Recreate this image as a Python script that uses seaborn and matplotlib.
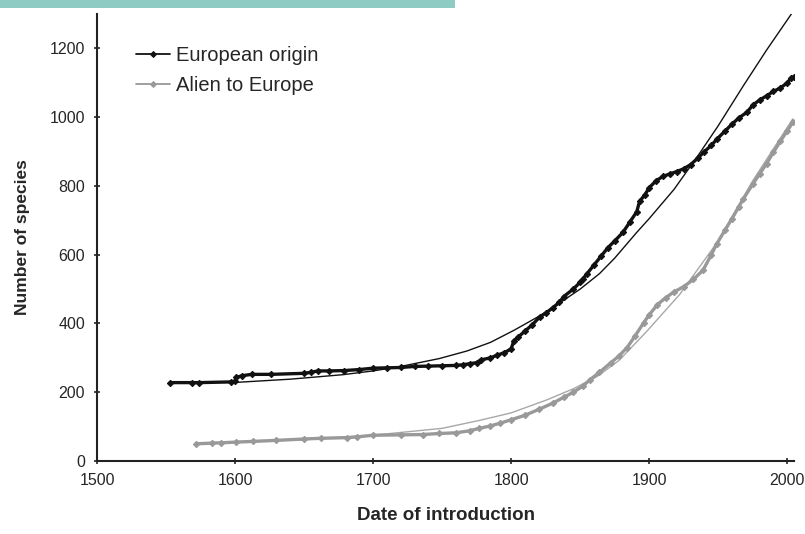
import numpy as np
import pandas as pd
import matplotlib
matplotlib.use("Agg")
import matplotlib.pyplot as plt
from matplotlib.patches import Rectangle
import seaborn as sns

eu_years = [1553, 1569, 1574, 1597, 1600, 1601, 1605, 1612, 1626, 1650, 1655, 1660, 1668,
            1679, 1690, 1700, 1710, 1720, 1730, 1740, 1750, 1760, 1765, 1770, 1775, 1778,
            1785, 1790, 1795, 1800, 1802, 1805, 1810, 1815, 1821, 1825, 1830, 1835, 1838,
            1845, 1850, 1852, 1855, 1860, 1865, 1870, 1875, 1881, 1886, 1891, 1893, 1897,
            1900, 1905, 1910, 1915, 1920, 1925, 1930, 1935, 1940, 1945, 1949, 1955, 1960,
            1965, 1971, 1975, 1980, 1985, 1990, 1995, 2000, 2003, 2005]
eu_counts = [228, 228, 228, 230, 232, 243, 248, 252, 252, 255, 258, 262, 262,
             263, 266, 270, 271, 272, 275, 276, 277, 278, 280, 283, 286, 294,
             300, 308, 315, 326, 350, 360, 378, 395, 420, 430, 445, 462, 478,
             500, 520, 530, 545, 570, 595, 620, 640, 665, 695, 725, 755, 775,
             795, 815, 828, 835, 842, 850, 862, 880, 900, 918, 936, 960, 980,
             998, 1015, 1035, 1050, 1062, 1075, 1085, 1100, 1115, 1118]

al_years = [1572, 1583, 1590, 1601, 1613, 1630, 1650, 1662, 1681, 1688, 1700, 1720, 1736,
            1748, 1760, 1770, 1777, 1785, 1792, 1800, 1810, 1820, 1830, 1838, 1845, 1852,
            1857, 1864, 1872, 1878, 1884, 1890, 1896, 1900, 1906, 1912, 1918, 1925, 1932,
            1939, 1945, 1949, 1955, 1960, 1965, 1968, 1975, 1980, 1985, 1990, 1995, 2000,
            2004]
al_counts = [50, 52, 53, 55, 57, 60, 64, 66, 68, 70, 75, 76, 77,
             80, 82, 88, 95, 102, 110, 120, 133, 150, 168, 185, 200, 218,
             236, 258, 285, 305, 330, 365, 402, 425, 455, 475, 492, 507, 528,
             555, 600, 632, 672, 705, 740, 761, 805, 835, 865, 898, 930, 960,
             985]

# fitted curves
eu_fit_years = [1598, 1640, 1678, 1700, 1720, 1748, 1768, 1785, 1802, 1825, 1850, 1864,
                1875, 1891, 1900, 1918, 1935, 1950, 1968, 1985, 2004]
eu_fit_counts = [228, 238, 251, 262, 275, 298, 320, 345, 380, 432, 500, 545,
                 590, 665, 705, 790, 886, 975, 1090, 1195, 1306]
al_fit_years = [1591, 1650, 1700, 1750, 1777, 1800, 1826, 1845, 1862, 1878, 1898, 1910,
                1922, 1950, 1975, 2004]
al_fit_counts = [55, 62, 75, 95, 118, 140, 178, 210, 245, 292, 376, 430,
                 484, 640, 815, 995]

labels = ["European origin", "Alien to Europe"]

sns.set_style("ticks")
plt.rcParams['font.family'] = ['Liberation Sans', 'DejaVu Sans']

fig = plt.figure(figsize=(8.05, 5.34), dpi=100)
ax = fig.add_axes([0.1205, 0.1367, 0.866, 0.837])

black = "#111111"
grey = "#999999"

eu = pd.DataFrame({"year": eu_years, "n": eu_counts})
al = pd.DataFrame({"year": al_years, "n": al_counts})
eu_fit = pd.DataFrame({"year": eu_fit_years, "n": eu_fit_counts})
al_fit = pd.DataFrame({"year": al_fit_years, "n": al_fit_counts})

sns.lineplot(data=eu_fit, x="year", y="n", ax=ax, color=black, lw=1.0, label="_nolegend_")
sns.lineplot(data=al_fit, x="year", y="n", ax=ax, color="#a8a8a8", lw=1.0, label="_nolegend_")
sns.lineplot(data=eu, x="year", y="n", ax=ax, color=black, lw=2.4, marker="D", ms=3.2,
             mec=black, label=labels[0])
sns.lineplot(data=al, x="year", y="n", ax=ax, color=grey, lw=2.4, marker="D", ms=3.2,
             mec=grey, label=labels[1])

ax.set_xlim(1500, 2005)
ax.set_ylim(0, 1300)
ax.set_xticks(range(1500, 2001, 100))
ax.set_yticks(range(0, 1201, 200))
ax.tick_params(labelsize=11.5, length=5, width=1.2, direction="inout", pad=6)
for s in ["top", "right"]:
    ax.spines[s].set_visible(False)
for s in ["left", "bottom"]:
    ax.spines[s].set_linewidth(1.5)
    ax.spines[s].set_color("#222222")

ax.set_xlabel("Date of introduction", fontsize=13.5, fontweight="bold", labelpad=14)
ax.set_ylabel("Number of species", fontsize=12.5, fontweight="bold", labelpad=14)

leg = ax.legend(loc="upper left", bbox_to_anchor=(0.03, 0.97), frameon=False,
                fontsize=14.5, handlelength=1.7, handletextpad=0.3, labelspacing=0.55)
for h in leg.legend_handles:
    h.set_linewidth(1.3)
    h.set_markersize(3)

fig.add_artist(Rectangle((0, 1 - 8 / 534), 455 / 805, 8 / 534, transform=fig.transFigure,
                         color="#8ecbc2", lw=0))

fig.savefig("out.png", dpi=100)
